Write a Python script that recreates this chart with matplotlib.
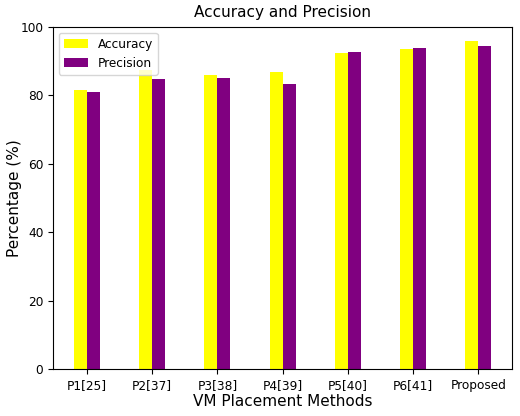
import numpy as np
import matplotlib
matplotlib.use("Agg")
import matplotlib.pyplot as plt

# Accuracy / precision (%) for each VM placement method
methods = ["P1[25]", "P2[37]", "P3[38]", "P4[39]", "P5[40]", "P6[41]", "Proposed"]
accuracy = [81.6, 87.3, 86.0, 86.9, 92.4, 93.5, 96.0]
precision = [81.1, 84.9, 85.2, 83.2, 92.6, 94.0, 94.6]

fig = plt.figure(figsize=(5.2, 4.16), dpi=100)
ax = fig.add_axes([0.102, 0.113, 0.883, 0.822])

x = np.arange(len(methods))
width = 0.2
ax.bar(x - width / 2, accuracy, width, color="yellow", label="Accuracy")
ax.bar(x + width / 2, precision, width, color="purple", label="Precision")

ax.set_ylim(0, 100)
ax.set_xticks(x)
ax.set_xticklabels(methods, fontsize=8.7)
ax.tick_params(axis="y", labelsize=8.7)
ax.set_xlabel("VM Placement Methods", fontsize=11, labelpad=2)
ax.set_ylabel("Percentage (%)", fontsize=11, labelpad=-1)
ax.set_title("Accuracy and Precision", fontsize=11, pad=7)
ax.legend(loc="upper left", fontsize=8.7)

fig.savefig("out.png", dpi=100)
